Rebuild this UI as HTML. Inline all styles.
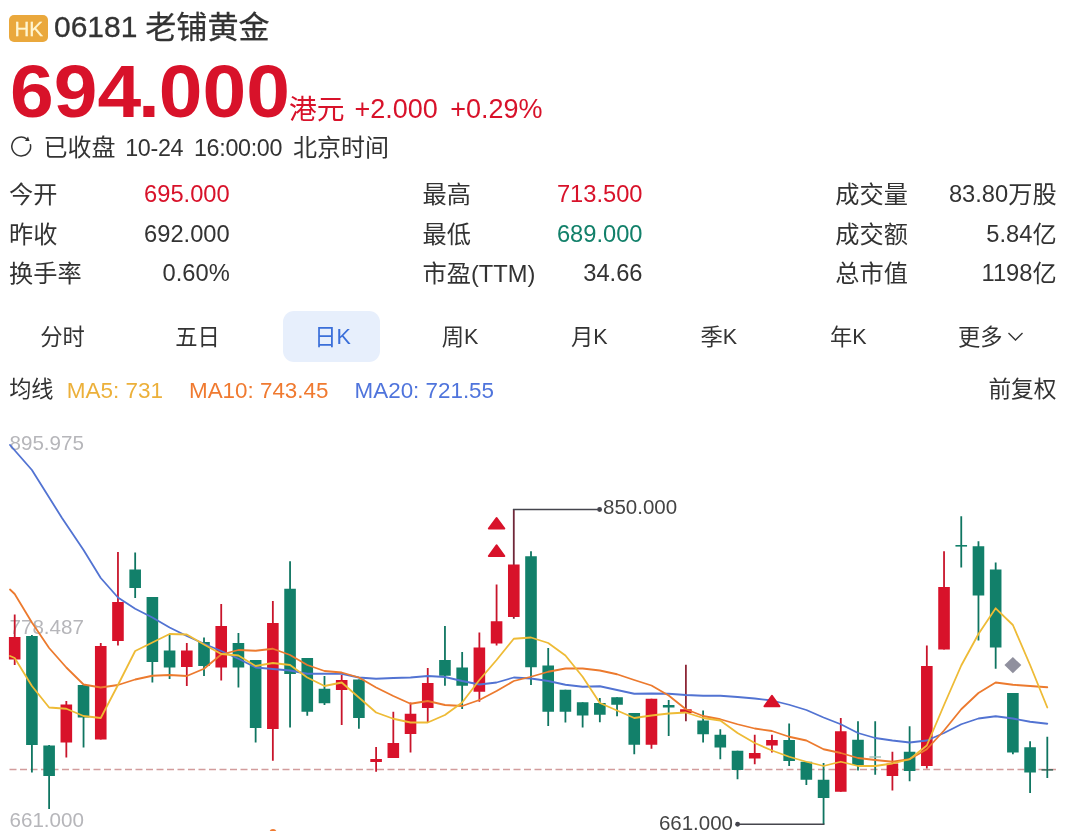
<!DOCTYPE html>
<html lang="zh-CN"><head><meta charset="utf-8"><title>06181 老铺黄金</title>
<style>
html,body{margin:0;padding:0;background:#fff;}
body{width:1080px;height:831px;position:relative;overflow:hidden;font-family:"Liberation Sans","Noto Sans CJK SC",sans-serif;}
.t{position:absolute;white-space:nowrap;line-height:1.3;}
.tab{width:100px;text-align:center;font-size:22.3px;}
.n{position:relative;}
.chart{position:absolute;left:0;top:0;}
.hk{position:absolute;left:9.4px;top:14.6px;width:38.6px;height:27.2px;border-radius:5px;background:#eaa83c;color:#fff5cf;font-size:20.5px;line-height:27.4px;text-align:center;-webkit-text-stroke:0.3px #fff5cf;}
.pill{position:absolute;left:282.5px;top:311px;width:97.5px;height:51px;border-radius:11px;background:#e7effc;}
.ico{position:absolute;left:0;top:0;}
</style></head><body>
<svg class="chart" width="1080" height="831" viewBox="0 0 1080 831">
<text x="9.5" y="449.5" font-size="20.6" fill="#b6b6ba">895.975</text>
<text x="9.5" y="634.2" font-size="20.6" fill="#b6b6ba">778.487</text>
<text x="9.5" y="826.9" font-size="20.6" fill="#b6b6ba">661.000</text>
<line x1="9.5" y1="769.5" x2="1056" y2="769.5" stroke="#d29c9c" stroke-width="1.7" stroke-dasharray="7 3.5"/>
<line x1="14.70" y1="614.50" x2="14.70" y2="665.00" stroke="#c8152b" stroke-width="1.8"/>
<rect x="8.90" y="637.00" width="11.60" height="22.50" fill="#d8122a"/>
<line x1="31.91" y1="635.00" x2="31.91" y2="772.50" stroke="#0f7561" stroke-width="1.8"/>
<rect x="26.11" y="636.00" width="11.60" height="109.00" fill="#12806a"/>
<line x1="49.12" y1="745.00" x2="49.12" y2="809.00" stroke="#0f7561" stroke-width="1.8"/>
<rect x="43.32" y="745.50" width="11.60" height="30.50" fill="#12806a"/>
<line x1="66.33" y1="701.00" x2="66.33" y2="757.50" stroke="#c8152b" stroke-width="1.8"/>
<rect x="60.53" y="704.50" width="11.60" height="38.00" fill="#d8122a"/>
<line x1="83.54" y1="685.00" x2="83.54" y2="747.50" stroke="#0f7561" stroke-width="1.8"/>
<rect x="77.74" y="685.00" width="11.60" height="32.50" fill="#12806a"/>
<line x1="100.75" y1="643.00" x2="100.75" y2="739.50" stroke="#c8152b" stroke-width="1.8"/>
<rect x="94.95" y="646.00" width="11.60" height="93.50" fill="#d8122a"/>
<line x1="117.96" y1="552.00" x2="117.96" y2="645.50" stroke="#c8152b" stroke-width="1.8"/>
<rect x="112.16" y="602.00" width="11.60" height="39.00" fill="#d8122a"/>
<line x1="135.17" y1="552.50" x2="135.17" y2="598.00" stroke="#0f7561" stroke-width="1.8"/>
<rect x="129.37" y="569.50" width="11.60" height="18.50" fill="#12806a"/>
<line x1="152.38" y1="597.00" x2="152.38" y2="682.50" stroke="#0f7561" stroke-width="1.8"/>
<rect x="146.58" y="597.00" width="11.60" height="65.00" fill="#12806a"/>
<line x1="169.59" y1="635.00" x2="169.59" y2="679.00" stroke="#0f7561" stroke-width="1.8"/>
<rect x="163.79" y="650.50" width="11.60" height="17.00" fill="#12806a"/>
<line x1="186.80" y1="643.00" x2="186.80" y2="686.00" stroke="#c8152b" stroke-width="1.8"/>
<rect x="181.00" y="650.50" width="11.60" height="16.50" fill="#d8122a"/>
<line x1="204.01" y1="637.50" x2="204.01" y2="676.00" stroke="#0f7561" stroke-width="1.8"/>
<rect x="198.21" y="642.00" width="11.60" height="24.00" fill="#12806a"/>
<line x1="221.22" y1="604.00" x2="221.22" y2="680.50" stroke="#c8152b" stroke-width="1.8"/>
<rect x="215.42" y="626.00" width="11.60" height="41.50" fill="#d8122a"/>
<line x1="238.43" y1="633.00" x2="238.43" y2="687.50" stroke="#0f7561" stroke-width="1.8"/>
<rect x="232.63" y="643.00" width="11.60" height="24.50" fill="#12806a"/>
<line x1="255.64" y1="660.00" x2="255.64" y2="742.50" stroke="#0f7561" stroke-width="1.8"/>
<rect x="249.84" y="660.00" width="11.60" height="68.00" fill="#12806a"/>
<line x1="272.85" y1="601.00" x2="272.85" y2="760.75" stroke="#c8152b" stroke-width="1.8"/>
<rect x="267.05" y="623.00" width="11.60" height="106.00" fill="#d8122a"/>
<line x1="290.06" y1="561.25" x2="290.06" y2="727.50" stroke="#0f7561" stroke-width="1.8"/>
<rect x="284.26" y="588.75" width="11.60" height="85.25" fill="#12806a"/>
<line x1="307.27" y1="658.00" x2="307.27" y2="715.75" stroke="#0f7561" stroke-width="1.8"/>
<rect x="301.47" y="658.00" width="11.60" height="53.75" fill="#12806a"/>
<line x1="324.48" y1="676.00" x2="324.48" y2="705.00" stroke="#0f7561" stroke-width="1.8"/>
<rect x="318.68" y="688.75" width="11.60" height="14.50" fill="#12806a"/>
<line x1="341.69" y1="675.00" x2="341.69" y2="725.00" stroke="#c8152b" stroke-width="1.8"/>
<rect x="335.89" y="680.00" width="11.60" height="10.00" fill="#d8122a"/>
<line x1="358.90" y1="679.50" x2="358.90" y2="728.75" stroke="#0f7561" stroke-width="1.8"/>
<rect x="353.10" y="679.50" width="11.60" height="38.50" fill="#12806a"/>
<line x1="376.11" y1="747.00" x2="376.11" y2="771.75" stroke="#c8152b" stroke-width="1.8"/>
<rect x="370.31" y="759.00" width="11.60" height="3.00" fill="#d8122a"/>
<line x1="393.32" y1="711.75" x2="393.32" y2="758.00" stroke="#c8152b" stroke-width="1.8"/>
<rect x="387.52" y="743.00" width="11.60" height="15.00" fill="#d8122a"/>
<line x1="410.53" y1="702.50" x2="410.53" y2="752.50" stroke="#c8152b" stroke-width="1.8"/>
<rect x="404.73" y="713.75" width="11.60" height="20.25" fill="#d8122a"/>
<line x1="427.74" y1="668.00" x2="427.74" y2="722.50" stroke="#c8152b" stroke-width="1.8"/>
<rect x="421.94" y="683.00" width="11.60" height="25.00" fill="#d8122a"/>
<line x1="444.95" y1="626.00" x2="444.95" y2="685.75" stroke="#0f7561" stroke-width="1.8"/>
<rect x="439.15" y="660.00" width="11.60" height="15.75" fill="#12806a"/>
<line x1="462.16" y1="652.00" x2="462.16" y2="709.00" stroke="#0f7561" stroke-width="1.8"/>
<rect x="456.36" y="667.50" width="11.60" height="18.25" fill="#12806a"/>
<line x1="479.37" y1="632.50" x2="479.37" y2="701.75" stroke="#c8152b" stroke-width="1.8"/>
<rect x="473.57" y="647.50" width="11.60" height="44.25" fill="#d8122a"/>
<line x1="496.58" y1="584.50" x2="496.58" y2="645.50" stroke="#c8152b" stroke-width="1.8"/>
<rect x="490.78" y="621.25" width="11.60" height="22.25" fill="#d8122a"/>
<line x1="513.79" y1="509.50" x2="513.79" y2="618.75" stroke="#70283a" stroke-width="1.8"/>
<rect x="507.99" y="564.50" width="11.60" height="52.50" fill="#d8122a"/>
<line x1="531.00" y1="551.25" x2="531.00" y2="685.00" stroke="#0f7561" stroke-width="1.8"/>
<rect x="525.20" y="556.25" width="11.60" height="111.00" fill="#12806a"/>
<line x1="548.21" y1="648.00" x2="548.21" y2="726.00" stroke="#0f7561" stroke-width="1.8"/>
<rect x="542.41" y="665.50" width="11.60" height="46.25" fill="#12806a"/>
<line x1="565.42" y1="689.75" x2="565.42" y2="722.50" stroke="#0f7561" stroke-width="1.8"/>
<rect x="559.62" y="689.75" width="11.60" height="22.00" fill="#12806a"/>
<line x1="582.63" y1="702.25" x2="582.63" y2="727.50" stroke="#0f7561" stroke-width="1.8"/>
<rect x="576.83" y="702.25" width="11.60" height="13.25" fill="#12806a"/>
<line x1="599.84" y1="698.00" x2="599.84" y2="722.25" stroke="#0f7561" stroke-width="1.8"/>
<rect x="594.04" y="703.00" width="11.60" height="11.75" fill="#12806a"/>
<line x1="617.05" y1="697.25" x2="617.05" y2="716.25" stroke="#0f7561" stroke-width="1.8"/>
<rect x="611.25" y="697.25" width="11.60" height="7.50" fill="#12806a"/>
<line x1="634.26" y1="713.00" x2="634.26" y2="754.25" stroke="#0f7561" stroke-width="1.8"/>
<rect x="628.46" y="713.00" width="11.60" height="31.75" fill="#12806a"/>
<line x1="651.47" y1="698.75" x2="651.47" y2="748.75" stroke="#c8152b" stroke-width="1.8"/>
<rect x="645.67" y="698.75" width="11.60" height="46.00" fill="#d8122a"/>
<line x1="668.68" y1="700.00" x2="668.68" y2="736.00" stroke="#0f7561" stroke-width="1.8"/>
<rect x="662.88" y="705.00" width="11.60" height="2.50" fill="#12806a"/>
<line x1="685.89" y1="664.75" x2="685.89" y2="721.25" stroke="#8c2636" stroke-width="1.8"/>
<rect x="680.09" y="709.25" width="11.60" height="3.75" fill="#d8122a"/>
<line x1="703.10" y1="710.50" x2="703.10" y2="742.50" stroke="#0f7561" stroke-width="1.8"/>
<rect x="697.30" y="720.50" width="11.60" height="13.75" fill="#12806a"/>
<line x1="720.31" y1="729.25" x2="720.31" y2="759.25" stroke="#0f7561" stroke-width="1.8"/>
<rect x="714.51" y="734.75" width="11.60" height="12.75" fill="#12806a"/>
<line x1="737.52" y1="750.75" x2="737.52" y2="779.25" stroke="#0f7561" stroke-width="1.8"/>
<rect x="731.72" y="750.75" width="11.60" height="19.25" fill="#12806a"/>
<line x1="754.73" y1="734.75" x2="754.73" y2="764.25" stroke="#c8152b" stroke-width="1.8"/>
<rect x="748.93" y="753.00" width="11.60" height="5.50" fill="#d8122a"/>
<line x1="771.94" y1="734.75" x2="771.94" y2="752.50" stroke="#c8152b" stroke-width="1.8"/>
<rect x="766.14" y="740.00" width="11.60" height="5.50" fill="#d8122a"/>
<line x1="789.15" y1="723.50" x2="789.15" y2="766.00" stroke="#0f7561" stroke-width="1.8"/>
<rect x="783.35" y="740.00" width="11.60" height="21.00" fill="#12806a"/>
<line x1="806.36" y1="761.75" x2="806.36" y2="785.00" stroke="#0f7561" stroke-width="1.8"/>
<rect x="800.56" y="761.75" width="11.60" height="18.00" fill="#12806a"/>
<line x1="823.57" y1="763.00" x2="823.57" y2="824.25" stroke="#0f7561" stroke-width="1.8"/>
<rect x="817.77" y="779.75" width="11.60" height="18.25" fill="#12806a"/>
<line x1="840.78" y1="718.00" x2="840.78" y2="791.75" stroke="#c8152b" stroke-width="1.8"/>
<rect x="834.98" y="731.25" width="11.60" height="60.50" fill="#d8122a"/>
<line x1="857.99" y1="721.25" x2="857.99" y2="770.50" stroke="#0f7561" stroke-width="1.8"/>
<rect x="852.19" y="739.75" width="11.60" height="25.25" fill="#12806a"/>
<line x1="875.20" y1="721.25" x2="875.20" y2="774.75" stroke="#0f7561" stroke-width="1.8"/>
<rect x="869.40" y="756.30" width="11.60" height="1.40" fill="#9bbfb5"/>
<line x1="892.41" y1="751.75" x2="892.41" y2="790.50" stroke="#c8152b" stroke-width="1.8"/>
<rect x="886.61" y="763.50" width="11.60" height="12.50" fill="#d8122a"/>
<line x1="909.62" y1="726.25" x2="909.62" y2="781.25" stroke="#0f7561" stroke-width="1.8"/>
<rect x="903.82" y="751.75" width="11.60" height="19.25" fill="#12806a"/>
<line x1="926.83" y1="645.50" x2="926.83" y2="768.50" stroke="#c8152b" stroke-width="1.8"/>
<rect x="921.03" y="666.00" width="11.60" height="100.00" fill="#d8122a"/>
<line x1="944.04" y1="551.25" x2="944.04" y2="649.50" stroke="#c8152b" stroke-width="1.8"/>
<rect x="938.24" y="587.00" width="11.60" height="62.50" fill="#d8122a"/>
<line x1="961.25" y1="516.25" x2="961.25" y2="567.50" stroke="#0f7561" stroke-width="1.8"/>
<rect x="955.45" y="545.00" width="11.60" height="1.60" fill="#12806a"/>
<line x1="978.46" y1="541.25" x2="978.46" y2="640.50" stroke="#0f7561" stroke-width="1.8"/>
<rect x="972.66" y="546.25" width="11.60" height="49.25" fill="#12806a"/>
<line x1="995.67" y1="562.50" x2="995.67" y2="668.75" stroke="#0f7561" stroke-width="1.8"/>
<rect x="989.87" y="569.50" width="11.60" height="78.00" fill="#12806a"/>
<line x1="1012.88" y1="693.00" x2="1012.88" y2="754.25" stroke="#0f7561" stroke-width="1.8"/>
<rect x="1007.08" y="693.00" width="11.60" height="59.50" fill="#12806a"/>
<line x1="1030.09" y1="741.25" x2="1030.09" y2="793.00" stroke="#0f7561" stroke-width="1.8"/>
<rect x="1024.29" y="747.25" width="11.60" height="25.25" fill="#12806a"/>
<line x1="1047.30" y1="736.75" x2="1047.30" y2="778.00" stroke="#0f7561" stroke-width="1.8"/>
<rect x="1041.50" y="769.20" width="11.60" height="1.40" fill="#2f5f52"/>
<polyline fill="none" stroke="#5273d2" stroke-width="1.8" stroke-linejoin="round" stroke-linecap="round" points="10.00,445.00 31.91,470.00 62.00,518.00 83.54,550.00 100.75,578.00 117.96,597.50 135.17,608.75 152.38,617.50 169.59,627.50 186.80,636.00 204.01,643.75 221.22,651.00 238.43,658.75 255.64,667.50 272.85,669.00 290.06,670.50 307.27,673.75 324.48,673.75 341.69,673.75 358.90,677.50 376.11,678.75 393.32,678.00 410.53,677.50 427.74,676.00 444.95,677.00 462.16,681.00 479.37,684.50 496.58,682.50 513.79,677.50 531.00,678.50 548.21,681.00 565.42,684.75 582.63,686.75 599.84,686.25 617.05,690.00 634.26,693.75 651.47,693.50 668.68,693.75 685.89,695.00 703.10,695.75 720.31,695.75 737.52,697.00 754.73,698.50 771.94,700.50 789.15,704.75 806.36,710.00 823.57,717.50 840.78,724.25 857.99,733.00 875.20,738.00 892.41,740.50 909.62,742.50 926.83,740.50 944.04,733.00 961.25,724.25 978.46,718.50 995.67,716.25 1012.88,718.50 1030.09,721.75 1047.30,723.75"/>
<polyline fill="none" stroke="#ec7a2e" stroke-width="1.8" stroke-linejoin="round" stroke-linecap="round" points="10.00,589.50 14.70,594.00 31.91,622.50 49.12,648.00 66.33,667.50 83.54,684.50 100.75,687.50 117.96,685.00 135.17,679.50 152.38,675.75 169.59,675.00 186.80,676.00 204.01,668.75 221.22,654.50 238.43,650.00 255.64,650.75 272.85,648.75 290.06,655.00 307.27,665.00 324.48,671.00 341.69,672.50 358.90,677.50 376.11,687.50 393.32,696.00 410.53,703.75 427.74,701.00 444.95,705.00 462.16,706.00 479.37,700.00 496.58,691.00 513.79,681.00 531.00,676.75 548.21,671.75 565.42,668.50 582.63,668.50 599.84,670.50 617.05,674.25 634.26,680.00 651.47,685.50 668.68,695.50 685.89,709.25 703.10,716.00 720.31,719.25 737.52,724.25 754.73,728.50 771.94,731.00 789.15,736.75 806.36,740.50 823.57,749.25 840.78,753.00 857.99,758.00 875.20,760.00 892.41,761.75 909.62,759.25 926.83,749.25 944.04,730.50 961.25,709.25 978.46,693.00 995.67,682.50 1012.88,684.75 1030.09,686.00 1047.30,687.25"/>
<polyline fill="none" stroke="#eebb36" stroke-width="1.8" stroke-linejoin="round" stroke-linecap="round" points="10.00,656.00 14.70,658.00 31.91,686.00 49.12,707.50 66.33,708.75 83.54,716.00 100.75,718.00 117.96,685.00 135.17,651.00 152.38,642.50 169.59,634.00 186.80,634.50 204.01,644.50 221.22,654.00 238.43,655.50 255.64,666.00 272.85,663.00 290.06,665.00 307.27,677.50 324.48,686.00 341.69,682.50 358.90,697.50 376.11,712.50 393.32,718.75 410.53,722.50 427.74,722.50 444.95,715.00 462.16,702.50 479.37,680.00 496.58,660.00 513.79,638.75 531.00,637.50 548.21,643.00 565.42,655.50 582.63,676.75 599.84,703.00 617.05,710.50 634.26,718.00 651.47,715.50 668.68,713.50 685.89,712.50 703.10,718.00 720.31,720.50 737.52,733.00 754.73,743.00 771.94,750.50 789.15,756.75 806.36,761.75 823.57,766.00 840.78,761.75 857.99,766.00 875.20,766.00 892.41,763.50 909.62,759.25 926.83,745.50 944.04,705.00 961.25,665.50 978.46,634.00 995.67,608.30 1012.88,625.00 1030.09,665.00 1047.30,707.50"/>
<path d="M512.89 509.5 H599.5" fill="none" stroke="#45454d" stroke-width="1.6"/>
<circle cx="599.6" cy="509.5" r="2.4" fill="#45454d"/>
<path d="M824.47 824.25 H737" fill="none" stroke="#45454d" stroke-width="1.6"/>
<circle cx="737.6" cy="824.25" r="2.4" fill="#45454d"/>
<path d="M496.58 518.00 L504.33 528.50 L488.83 528.50 Z" fill="#d8122a" stroke="#d8122a" stroke-width="2" stroke-linejoin="round"/>
<path d="M496.58 545.25 L504.33 556.00 L488.83 556.00 Z" fill="#d8122a" stroke="#d8122a" stroke-width="2" stroke-linejoin="round"/>
<path d="M771.94 695.75 L779.44 706.25 L764.44 706.25 Z" fill="#d8122a" stroke="#d8122a" stroke-width="2" stroke-linejoin="round"/>
<path d="M1012.88 657 l8.45 8.1 l-8.45 8.1 l-8.45 -8.1 Z" fill="#90909e"/>
<circle cx="273" cy="832.5" r="3.5" fill="#f07a30"/>
</svg>
<svg class="ico" width="40" height="170" viewBox="0 0 40 170"><path d="M30.33 144.07 A9.4 9.4 0 1 1 26.64 138.8" fill="none" stroke="#333" stroke-width="1.5"/><path d="M29.5 140.9 L25.0 141.0 L28.0 136.5 Z" fill="#333"/></svg>
<div class="hk">HK</div>
<div class="t" style="left:54.00px;top:6.60px;font-size:30.00px;color:#333;-webkit-text-stroke:0.3px #333;">06181</div>
<div class="t" style="left:145.20px;top:8.30px;font-size:31.10px;color:#333;-webkit-text-stroke:0.25px #333;">老铺黄金</div>
<div class="t" style="left:9.90px;top:43.00px;font-size:75.00px;color:#d8122a;font-weight:bold;transform:scaleX(1.048);transform-origin:0 0;">69<span style="letter-spacing:-2.9px">4</span><span style="letter-spacing:-1.1px">.</span>000</div>
<div class="t" style="left:289.00px;top:91.50px;font-size:27.80px;color:#d8122a;">港元</div>
<div class="t" style="left:354.50px;top:91.70px;font-size:27.00px;color:#d8122a;">+2.000</div>
<div class="t" style="left:450.20px;top:91.70px;font-size:27.00px;color:#d8122a;">+0.29%</div>
<div class="t" style="left:43.60px;top:132.20px;font-size:24.00px;color:#333;">已收盘</div>
<div class="t" style="left:125.20px;top:132.60px;font-size:23.30px;color:#333;letter-spacing:-0.3px;">10-24</div>
<div class="t" style="left:193.90px;top:132.60px;font-size:23.30px;color:#333;letter-spacing:-0.3px;">16:00:00</div>
<div class="t" style="left:293.00px;top:132.20px;font-size:24.00px;color:#333;">北京时间</div>
<div class="t" style="left:9.00px;top:179.30px;font-size:24.20px;color:#333;">今开</div>
<div class="t" style="right:850.30px;top:179.30px;font-size:24.20px;color:#d8122a;"><span class="n" style="font-size:23.70px;top:-1.00px">695.000</span></div>
<div class="t" style="left:422.50px;top:179.30px;font-size:24.20px;color:#333;">最高</div>
<div class="t" style="right:437.50px;top:179.30px;font-size:24.20px;color:#d8122a;"><span class="n" style="font-size:23.70px;top:-1.00px">713.500</span></div>
<div class="t" style="left:835.30px;top:179.30px;font-size:24.20px;color:#333;">成交量</div>
<div class="t" style="right:23.40px;top:179.30px;font-size:24.20px;color:#333;"><span class="n" style="font-size:23.70px;top:-1.00px">83.80</span>万股</div>
<div class="t" style="left:9.00px;top:218.80px;font-size:24.20px;color:#333;">昨收</div>
<div class="t" style="right:850.30px;top:218.80px;font-size:24.20px;color:#333;"><span class="n" style="font-size:23.70px;top:-1.00px">692.000</span></div>
<div class="t" style="left:422.50px;top:218.80px;font-size:24.20px;color:#333;">最低</div>
<div class="t" style="right:437.50px;top:218.80px;font-size:24.20px;color:#12806a;"><span class="n" style="font-size:23.70px;top:-1.00px">689.000</span></div>
<div class="t" style="left:835.30px;top:218.80px;font-size:24.20px;color:#333;">成交额</div>
<div class="t" style="right:23.40px;top:218.80px;font-size:24.20px;color:#333;"><span class="n" style="font-size:23.70px;top:-1.00px">5.84</span>亿</div>
<div class="t" style="left:9.00px;top:258.20px;font-size:24.20px;color:#333;">换手率</div>
<div class="t" style="right:850.30px;top:258.20px;font-size:24.20px;color:#333;"><span class="n" style="font-size:23.70px;top:-1.00px">0.60%</span></div>
<div class="t" style="left:422.50px;top:258.20px;font-size:24.20px;color:#333;">市盈<span class="n" style="font-size:23.70px;top:-0.50px">(TTM)</span></div>
<div class="t" style="right:437.50px;top:258.20px;font-size:24.20px;color:#333;"><span class="n" style="font-size:23.70px;top:-1.00px">34.66</span></div>
<div class="t" style="left:835.30px;top:258.20px;font-size:24.20px;color:#333;">总市值</div>
<div class="t" style="right:23.40px;top:258.20px;font-size:24.20px;color:#333;"><span class="n" style="font-size:23.70px;top:-1.00px">1198</span>亿</div>
<div class="pill"></div>
<div class="t tab" style="left:12.50px;top:323.5px;color:#333">分时</div>
<div class="t tab" style="left:147.50px;top:323.5px;color:#333">五日</div>
<div class="t tab" style="left:282.50px;top:323.5px;color:#3b6fd9">日<span class="n" style="font-size:21.50px;top:-0.50px">K</span></div>
<div class="t tab" style="left:410.00px;top:323.5px;color:#333">周<span class="n" style="font-size:21.50px;top:-0.50px">K</span></div>
<div class="t tab" style="left:539.30px;top:323.5px;color:#333">月<span class="n" style="font-size:21.50px;top:-0.50px">K</span></div>
<div class="t tab" style="left:668.80px;top:323.5px;color:#333">季<span class="n" style="font-size:21.50px;top:-0.50px">K</span></div>
<div class="t tab" style="left:798.30px;top:323.5px;color:#333">年<span class="n" style="font-size:21.50px;top:-0.50px">K</span></div>
<div class="t" style="left:958.00px;top:323.50px;font-size:22.30px;color:#333;">更多</div>
<svg class="chev" width="18" height="12" viewBox="0 0 18 12" style="position:absolute;left:1006.5px;top:331.3px"><path d="M1.5 2 L8.5 9 L15.5 2" fill="none" stroke="#333" stroke-width="1.35"/></svg>
<div class="t" style="left:9.20px;top:375.50px;font-size:22.20px;color:#333;">均线</div>
<div class="t" style="left:66.70px;top:375.60px;font-size:22.50px;color:#ecb03a;">MA5: 731</div>
<div class="t" style="left:189.00px;top:375.60px;font-size:22.40px;color:#f07a30;">MA10: 743.45</div>
<div class="t" style="left:354.60px;top:375.60px;font-size:22.40px;color:#4f74dc;">MA20: 721.55</div>
<div class="t" style="right:23.50px;top:375.30px;font-size:22.70px;color:#333;">前复权</div>
<div class="t" style="left:603.00px;top:494.30px;font-size:20.50px;color:#444;">850.000</div>
<div class="t" style="right:347.00px;top:809.50px;font-size:20.50px;color:#444;">661.000</div>
</body></html>
